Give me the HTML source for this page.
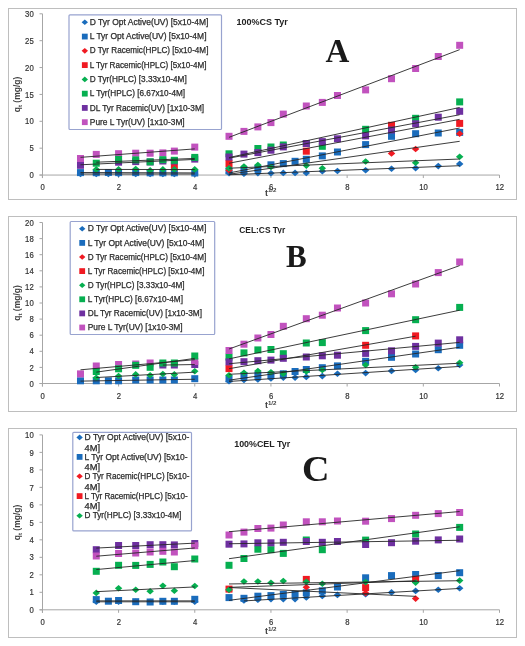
<!DOCTYPE html>
<html><head><meta charset="utf-8"><style>
html,body{margin:0;padding:0;background:#fff;width:525px;height:646px;overflow:hidden}
svg{display:block;will-change:transform}
.tk{font-family:"Liberation Sans",sans-serif;font-size:8.8px;fill:#333;stroke:#333;stroke-width:0.2px}
.lg{font-family:"Liberation Sans",sans-serif;font-size:8.3px;fill:#2b2b2b;stroke:#2b2b2b;stroke-width:0.25px}
.ax{font-family:"Liberation Sans",sans-serif;font-size:9px;fill:#404040;font-weight:bold}
.axb{font-family:"Liberation Sans",sans-serif;font-size:8.5px;fill:#404040;font-weight:bold}
.ttl{font-family:"Liberation Sans",sans-serif;font-size:9.3px;fill:#222;font-weight:bold}
.big{font-family:"Liberation Serif",serif;font-size:31px;fill:#1a1a1a;font-weight:bold}
</style></head><body>
<svg width="525" height="646" viewBox="0 0 525 646">
<rect width="525" height="646" fill="#fff"/>
<rect x="8.5" y="8.5" width="508" height="191" fill="#fff" stroke="#BEBEBE" stroke-width="1"/>
<g stroke="#A6A6A6" stroke-width="1" fill="none">
<path d="M42.5 13.80V178.05"/>
<path d="M39.5 175.05H499.50"/>
<path d="M39.5 175.05H42.5"/>
<path d="M39.5 148.18H42.5"/>
<path d="M39.5 121.30H42.5"/>
<path d="M39.5 94.43H42.5"/>
<path d="M39.5 67.55H42.5"/>
<path d="M39.5 40.68H42.5"/>
<path d="M39.5 13.80H42.5"/>
<path d="M42.40 175.05V178.05"/>
<path d="M118.58 175.05V178.05"/>
<path d="M194.77 175.05V178.05"/>
<path d="M270.95 175.05V178.05"/>
<path d="M347.13 175.05V178.05"/>
<path d="M423.32 175.05V178.05"/>
<path d="M499.50 175.05V178.05"/>
</g>
<text x="29.40" y="178.20" class="tk" textLength="4.30" lengthAdjust="spacingAndGlyphs">0</text>
<text x="29.40" y="151.33" class="tk" textLength="4.30" lengthAdjust="spacingAndGlyphs">5</text>
<text x="25.10" y="124.45" class="tk" textLength="8.60" lengthAdjust="spacingAndGlyphs">10</text>
<text x="25.10" y="97.58" class="tk" textLength="8.60" lengthAdjust="spacingAndGlyphs">15</text>
<text x="25.10" y="70.70" class="tk" textLength="8.60" lengthAdjust="spacingAndGlyphs">20</text>
<text x="25.10" y="43.83" class="tk" textLength="8.60" lengthAdjust="spacingAndGlyphs">25</text>
<text x="25.10" y="16.95" class="tk" textLength="8.60" lengthAdjust="spacingAndGlyphs">30</text>
<text x="40.55" y="190.05" class="tk" textLength="4.30" lengthAdjust="spacingAndGlyphs">0</text>
<text x="116.73" y="190.05" class="tk" textLength="4.30" lengthAdjust="spacingAndGlyphs">2</text>
<text x="192.92" y="190.05" class="tk" textLength="4.30" lengthAdjust="spacingAndGlyphs">4</text>
<text x="269.10" y="190.05" class="tk" textLength="4.30" lengthAdjust="spacingAndGlyphs">6</text>
<text x="345.28" y="190.05" class="tk" textLength="4.30" lengthAdjust="spacingAndGlyphs">8</text>
<text x="419.32" y="190.05" class="tk" textLength="8.60" lengthAdjust="spacingAndGlyphs">10</text>
<text x="495.50" y="190.05" class="tk" textLength="8.60" lengthAdjust="spacingAndGlyphs">12</text>
<text x="264.9" y="195.70" class="ax">t<tspan dy="-3.4" font-size="6.2">1/2</tspan></text>
<text transform="translate(20 94.50) rotate(-90)" text-anchor="middle" class="axb">q<tspan dy="2" font-size="6">t</tspan><tspan dy="-2"> (mg/g)</tspan></text>
<path d="M80.49 170.70L84.24 174.00L80.49 177.30L76.74 174.00Z" fill="#1A6CBC"/>
<path d="M96.27 170.70L100.02 174.00L96.27 177.30L92.52 174.00Z" fill="#1A6CBC"/>
<path d="M108.38 170.70L112.13 174.00L108.38 177.30L104.63 174.00Z" fill="#1A6CBC"/>
<path d="M118.58 170.70L122.33 174.00L118.58 177.30L114.83 174.00Z" fill="#1A6CBC"/>
<path d="M135.71 170.70L139.46 174.00L135.71 177.30L131.96 174.00Z" fill="#1A6CBC"/>
<path d="M150.14 170.70L153.89 174.00L150.14 177.30L146.39 174.00Z" fill="#1A6CBC"/>
<path d="M162.86 170.70L166.61 174.00L162.86 177.30L159.11 174.00Z" fill="#1A6CBC"/>
<path d="M174.35 170.70L178.10 174.00L174.35 177.30L170.60 174.00Z" fill="#1A6CBC"/>
<path d="M194.77 170.70L198.52 174.00L194.77 177.30L191.02 174.00Z" fill="#1A6CBC"/>
<rect x="76.99" y="169.10" width="7.00" height="7.00" fill="#1A6CBC"/>
<rect x="92.77" y="169.20" width="7.00" height="7.00" fill="#1A6CBC"/>
<rect x="104.88" y="169.00" width="7.00" height="7.00" fill="#1A6CBC"/>
<rect x="115.08" y="169.10" width="7.00" height="7.00" fill="#1A6CBC"/>
<rect x="132.21" y="169.10" width="7.00" height="7.00" fill="#1A6CBC"/>
<rect x="146.64" y="169.30" width="7.00" height="7.00" fill="#1A6CBC"/>
<rect x="159.36" y="169.30" width="7.00" height="7.00" fill="#1A6CBC"/>
<rect x="170.85" y="169.30" width="7.00" height="7.00" fill="#1A6CBC"/>
<rect x="191.27" y="169.50" width="7.00" height="7.00" fill="#1A6CBC"/>
<rect x="170.85" y="163.60" width="7.00" height="7.00" fill="#F01A22"/>
<path d="M96.27 166.10L100.02 169.40L96.27 172.70L92.52 169.40Z" fill="#06AF50"/>
<path d="M118.58 166.10L122.33 169.40L118.58 172.70L114.83 169.40Z" fill="#06AF50"/>
<path d="M135.71 165.70L139.46 169.00L135.71 172.30L131.96 169.00Z" fill="#06AF50"/>
<path d="M150.14 167.10L153.89 170.40L150.14 173.70L146.39 170.40Z" fill="#06AF50"/>
<path d="M162.86 166.10L166.61 169.40L162.86 172.70L159.11 169.40Z" fill="#06AF50"/>
<path d="M174.35 166.10L178.10 169.40L174.35 172.70L170.60 169.40Z" fill="#06AF50"/>
<path d="M194.77 166.10L198.52 169.40L194.77 172.70L191.02 169.40Z" fill="#06AF50"/>
<rect x="76.99" y="161.80" width="7.00" height="7.00" fill="#6E30A0"/>
<rect x="115.08" y="158.70" width="7.00" height="7.00" fill="#6E30A0"/>
<rect x="132.21" y="158.10" width="7.00" height="7.00" fill="#6E30A0"/>
<rect x="146.64" y="158.50" width="7.00" height="7.00" fill="#6E30A0"/>
<rect x="159.36" y="157.50" width="7.00" height="7.00" fill="#6E30A0"/>
<rect x="170.85" y="157.50" width="7.00" height="7.00" fill="#6E30A0"/>
<rect x="191.27" y="155.60" width="7.00" height="7.00" fill="#6E30A0"/>
<rect x="76.99" y="155.00" width="7.00" height="7.00" fill="#C152BE"/>
<rect x="92.77" y="150.90" width="7.00" height="7.00" fill="#C152BE"/>
<rect x="115.08" y="150.20" width="7.00" height="7.00" fill="#C152BE"/>
<rect x="132.21" y="149.70" width="7.00" height="7.00" fill="#C152BE"/>
<rect x="146.64" y="149.70" width="7.00" height="7.00" fill="#C152BE"/>
<rect x="159.36" y="149.40" width="7.00" height="7.00" fill="#C152BE"/>
<rect x="170.85" y="147.60" width="7.00" height="7.00" fill="#C152BE"/>
<rect x="191.27" y="143.60" width="7.00" height="7.00" fill="#C152BE"/>
<rect x="92.77" y="159.70" width="7.00" height="7.00" fill="#06AF50"/>
<rect x="115.08" y="155.90" width="7.00" height="7.00" fill="#06AF50"/>
<rect x="132.21" y="156.40" width="7.00" height="7.00" fill="#06AF50"/>
<rect x="146.64" y="158.30" width="7.00" height="7.00" fill="#06AF50"/>
<rect x="159.36" y="156.20" width="7.00" height="7.00" fill="#06AF50"/>
<rect x="170.85" y="156.80" width="7.00" height="7.00" fill="#06AF50"/>
<rect x="191.27" y="153.90" width="7.00" height="7.00" fill="#06AF50"/>
<path d="M229.01 169.80L232.76 173.10L229.01 176.40L225.26 173.10Z" fill="#1A6CBC"/>
<path d="M243.96 170.40L247.71 173.70L243.96 177.00L240.21 173.70Z" fill="#1A6CBC"/>
<path d="M257.88 169.80L261.63 173.10L257.88 176.40L254.13 173.10Z" fill="#1A6CBC"/>
<path d="M270.95 170.00L274.70 173.30L270.95 176.60L267.20 173.30Z" fill="#1A6CBC"/>
<path d="M283.31 169.60L287.06 172.90L283.31 176.20L279.56 172.90Z" fill="#1A6CBC"/>
<path d="M295.07 169.60L298.82 172.90L295.07 176.20L291.32 172.90Z" fill="#1A6CBC"/>
<path d="M306.31 169.60L310.06 172.90L306.31 176.20L302.56 172.90Z" fill="#1A6CBC"/>
<path d="M322.32 168.00L326.07 171.30L322.32 174.60L318.57 171.30Z" fill="#1A6CBC"/>
<path d="M337.46 167.70L341.21 171.00L337.46 174.30L333.71 171.00Z" fill="#1A6CBC"/>
<path d="M365.62 167.00L369.37 170.30L365.62 173.60L361.87 170.30Z" fill="#1A6CBC"/>
<path d="M391.52 165.40L395.27 168.70L391.52 172.00L387.77 168.70Z" fill="#1A6CBC"/>
<path d="M415.62 164.80L419.37 168.10L415.62 171.40L411.87 168.10Z" fill="#1A6CBC"/>
<path d="M438.26 162.80L442.01 166.10L438.26 169.40L434.51 166.10Z" fill="#1A6CBC"/>
<path d="M459.67 160.60L463.42 163.90L459.67 167.20L455.92 163.90Z" fill="#1A6CBC"/>
<rect x="225.51" y="167.40" width="7.00" height="7.00" fill="#1A6CBC"/>
<rect x="240.46" y="166.80" width="7.00" height="7.00" fill="#1A6CBC"/>
<rect x="254.38" y="165.00" width="7.00" height="7.00" fill="#1A6CBC"/>
<rect x="267.45" y="161.30" width="7.00" height="7.00" fill="#1A6CBC"/>
<rect x="279.81" y="160.10" width="7.00" height="7.00" fill="#1A6CBC"/>
<rect x="291.57" y="157.80" width="7.00" height="7.00" fill="#1A6CBC"/>
<rect x="302.81" y="155.80" width="7.00" height="7.00" fill="#1A6CBC"/>
<rect x="318.82" y="152.40" width="7.00" height="7.00" fill="#1A6CBC"/>
<rect x="333.96" y="148.50" width="7.00" height="7.00" fill="#1A6CBC"/>
<rect x="362.12" y="141.10" width="7.00" height="7.00" fill="#1A6CBC"/>
<rect x="388.02" y="132.80" width="7.00" height="7.00" fill="#1A6CBC"/>
<rect x="412.12" y="130.20" width="7.00" height="7.00" fill="#1A6CBC"/>
<rect x="434.76" y="129.50" width="7.00" height="7.00" fill="#1A6CBC"/>
<rect x="456.17" y="128.90" width="7.00" height="7.00" fill="#1A6CBC"/>
<path d="M229.01 167.00L232.76 170.30L229.01 173.60L225.26 170.30Z" fill="#F01A22"/>
<path d="M391.52 150.10L395.27 153.40L391.52 156.70L387.77 153.40Z" fill="#F01A22"/>
<path d="M415.62 145.70L419.37 149.00L415.62 152.30L411.87 149.00Z" fill="#F01A22"/>
<path d="M459.67 130.40L463.42 133.70L459.67 137.00L455.92 133.70Z" fill="#F01A22"/>
<rect x="225.51" y="160.00" width="7.00" height="7.00" fill="#F01A22"/>
<rect x="302.81" y="147.70" width="7.00" height="7.00" fill="#F01A22"/>
<rect x="388.02" y="121.80" width="7.00" height="7.00" fill="#F01A22"/>
<rect x="456.17" y="119.90" width="7.00" height="7.00" fill="#F01A22"/>
<path d="M229.01 164.90L232.76 168.20L229.01 171.50L225.26 168.20Z" fill="#06AF50"/>
<path d="M243.96 163.20L247.71 166.50L243.96 169.80L240.21 166.50Z" fill="#06AF50"/>
<path d="M257.88 161.70L261.63 165.00L257.88 168.30L254.13 165.00Z" fill="#06AF50"/>
<path d="M270.95 163.70L274.70 167.00L270.95 170.30L267.20 167.00Z" fill="#06AF50"/>
<path d="M306.31 162.30L310.06 165.60L306.31 168.90L302.56 165.60Z" fill="#06AF50"/>
<path d="M322.32 164.90L326.07 168.20L322.32 171.50L318.57 168.20Z" fill="#06AF50"/>
<path d="M365.62 158.20L369.37 161.50L365.62 164.80L361.87 161.50Z" fill="#06AF50"/>
<path d="M415.62 159.50L419.37 162.80L415.62 166.10L411.87 162.80Z" fill="#06AF50"/>
<path d="M459.67 153.40L463.42 156.70L459.67 160.00L455.92 156.70Z" fill="#06AF50"/>
<rect x="225.51" y="150.30" width="7.00" height="7.00" fill="#06AF50"/>
<rect x="254.38" y="145.00" width="7.00" height="7.00" fill="#06AF50"/>
<rect x="267.45" y="143.50" width="7.00" height="7.00" fill="#06AF50"/>
<rect x="279.81" y="141.50" width="7.00" height="7.00" fill="#06AF50"/>
<rect x="302.81" y="140.00" width="7.00" height="7.00" fill="#06AF50"/>
<rect x="318.82" y="142.80" width="7.00" height="7.00" fill="#06AF50"/>
<rect x="362.12" y="125.80" width="7.00" height="7.00" fill="#06AF50"/>
<rect x="412.12" y="114.80" width="7.00" height="7.00" fill="#06AF50"/>
<rect x="456.17" y="98.40" width="7.00" height="7.00" fill="#06AF50"/>
<rect x="225.51" y="153.50" width="7.00" height="7.00" fill="#6E30A0"/>
<rect x="240.46" y="150.60" width="7.00" height="7.00" fill="#6E30A0"/>
<rect x="254.38" y="149.10" width="7.00" height="7.00" fill="#6E30A0"/>
<rect x="267.45" y="146.70" width="7.00" height="7.00" fill="#6E30A0"/>
<rect x="279.81" y="143.40" width="7.00" height="7.00" fill="#6E30A0"/>
<rect x="302.81" y="140.00" width="7.00" height="7.00" fill="#6E30A0"/>
<rect x="318.82" y="138.10" width="7.00" height="7.00" fill="#6E30A0"/>
<rect x="333.96" y="135.30" width="7.00" height="7.00" fill="#6E30A0"/>
<rect x="362.12" y="132.40" width="7.00" height="7.00" fill="#6E30A0"/>
<rect x="388.02" y="126.50" width="7.00" height="7.00" fill="#6E30A0"/>
<rect x="412.12" y="120.30" width="7.00" height="7.00" fill="#6E30A0"/>
<rect x="434.76" y="113.70" width="7.00" height="7.00" fill="#6E30A0"/>
<rect x="456.17" y="107.80" width="7.00" height="7.00" fill="#6E30A0"/>
<rect x="225.51" y="132.80" width="7.00" height="7.00" fill="#C152BE"/>
<rect x="240.46" y="127.90" width="7.00" height="7.00" fill="#C152BE"/>
<rect x="254.38" y="123.40" width="7.00" height="7.00" fill="#C152BE"/>
<rect x="267.45" y="119.10" width="7.00" height="7.00" fill="#C152BE"/>
<rect x="279.81" y="110.60" width="7.00" height="7.00" fill="#C152BE"/>
<rect x="302.81" y="102.50" width="7.00" height="7.00" fill="#C152BE"/>
<rect x="318.82" y="98.90" width="7.00" height="7.00" fill="#C152BE"/>
<rect x="333.96" y="92.00" width="7.00" height="7.00" fill="#C152BE"/>
<rect x="362.12" y="86.40" width="7.00" height="7.00" fill="#C152BE"/>
<rect x="388.02" y="75.20" width="7.00" height="7.00" fill="#C152BE"/>
<rect x="412.12" y="65.00" width="7.00" height="7.00" fill="#C152BE"/>
<rect x="434.76" y="53.00" width="7.00" height="7.00" fill="#C152BE"/>
<rect x="456.17" y="41.80" width="7.00" height="7.00" fill="#C152BE"/>
<line x1="80.49" y1="174.00" x2="194.77" y2="174.00" stroke="#262626" stroke-width="0.9"/>
<line x1="229.01" y1="174.77" x2="459.67" y2="165.70" stroke="#262626" stroke-width="0.9"/>
<line x1="80.49" y1="172.53" x2="194.77" y2="172.91" stroke="#262626" stroke-width="0.9"/>
<line x1="229.01" y1="172.96" x2="459.67" y2="128.02" stroke="#262626" stroke-width="0.9"/>
<line x1="228.60" y1="174.30" x2="459.70" y2="141.30" stroke="#262626" stroke-width="0.9"/>
<line x1="229.01" y1="163.21" x2="459.67" y2="119.36" stroke="#262626" stroke-width="0.9"/>
<line x1="96.27" y1="169.43" x2="194.77" y2="169.54" stroke="#262626" stroke-width="0.9"/>
<line x1="229.01" y1="168.19" x2="459.67" y2="159.02" stroke="#262626" stroke-width="0.9"/>
<line x1="96.27" y1="162.20" x2="194.77" y2="158.43" stroke="#262626" stroke-width="0.9"/>
<line x1="229.01" y1="157.56" x2="459.67" y2="107.49" stroke="#262626" stroke-width="0.9"/>
<line x1="80.49" y1="164.79" x2="194.77" y2="159.42" stroke="#262626" stroke-width="0.9"/>
<line x1="229.01" y1="158.14" x2="459.67" y2="114.76" stroke="#262626" stroke-width="0.9"/>
<line x1="80.49" y1="157.35" x2="194.77" y2="148.90" stroke="#262626" stroke-width="0.9"/>
<line x1="229.01" y1="137.32" x2="459.67" y2="49.65" stroke="#262626" stroke-width="0.9"/>
<rect x="69" y="14.8" width="152.5" height="114.7" fill="#fff" stroke="#98A3CF" stroke-width="1.2" rx="1"/>
<path d="M84.80 19.48L88.00 22.30L84.80 25.12L81.60 22.30Z" fill="#1A6CBC"/>
<text x="89.8" y="24.90" class="lg" textLength="118.6" lengthAdjust="spacingAndGlyphs">D Tyr Opt Active(UV) [5x10-4M]</text>
<rect x="81.90" y="33.67" width="5.80" height="5.80" fill="#1A6CBC"/>
<text x="89.8" y="39.17" class="lg" textLength="116.7" lengthAdjust="spacingAndGlyphs">L Tyr Opt Active(UV) [5x10-4M]</text>
<path d="M84.80 48.02L88.00 50.84L84.80 53.66L81.60 50.84Z" fill="#F01A22"/>
<text x="89.8" y="53.44" class="lg" textLength="118.6" lengthAdjust="spacingAndGlyphs">D Tyr Racemic(HPLC) [5x10-4M]</text>
<rect x="81.90" y="62.21" width="5.80" height="5.80" fill="#F01A22"/>
<text x="89.8" y="67.71" class="lg" textLength="116.7" lengthAdjust="spacingAndGlyphs">L Tyr Racemic(HPLC) [5x10-4M]</text>
<path d="M84.80 76.56L88.00 79.38L84.80 82.20L81.60 79.38Z" fill="#06AF50"/>
<text x="89.8" y="81.98" class="lg" textLength="96.9" lengthAdjust="spacingAndGlyphs">D Tyr(HPLC) [3.33x10-4M]</text>
<rect x="81.90" y="90.75" width="5.80" height="5.80" fill="#06AF50"/>
<text x="89.8" y="96.25" class="lg" textLength="95.3" lengthAdjust="spacingAndGlyphs">L Tyr(HPLC) [6.67x10-4M]</text>
<rect x="81.90" y="105.02" width="5.80" height="5.80" fill="#6E30A0"/>
<text x="89.8" y="110.52" class="lg" textLength="114.3" lengthAdjust="spacingAndGlyphs">DL Tyr Racemic(UV) [1x10-3M]</text>
<rect x="81.90" y="119.29" width="5.80" height="5.80" fill="#C152BE"/>
<text x="89.8" y="124.79" class="lg" textLength="94.9" lengthAdjust="spacingAndGlyphs">Pure L Tyr(UV) [1x10-3M]</text>
<text x="236.4" y="25.4" class="ttl" textLength="51.5" lengthAdjust="spacingAndGlyphs">100%CS Tyr</text>
<text x="325.6" y="61.9" class="big" style="font-size:33px">A</text>
<rect x="8.5" y="216.5" width="508" height="195" fill="#fff" stroke="#BEBEBE" stroke-width="1"/>
<g stroke="#A6A6A6" stroke-width="1" fill="none">
<path d="M42.5 222.50V386.50"/>
<path d="M39.5 383.50H499.50"/>
<path d="M39.5 383.50H42.5"/>
<path d="M39.5 367.40H42.5"/>
<path d="M39.5 351.30H42.5"/>
<path d="M39.5 335.20H42.5"/>
<path d="M39.5 319.10H42.5"/>
<path d="M39.5 303.00H42.5"/>
<path d="M39.5 286.90H42.5"/>
<path d="M39.5 270.80H42.5"/>
<path d="M39.5 254.70H42.5"/>
<path d="M39.5 238.60H42.5"/>
<path d="M39.5 222.50H42.5"/>
<path d="M42.40 383.50V386.50"/>
<path d="M118.58 383.50V386.50"/>
<path d="M194.77 383.50V386.50"/>
<path d="M270.95 383.50V386.50"/>
<path d="M347.13 383.50V386.50"/>
<path d="M423.32 383.50V386.50"/>
<path d="M499.50 383.50V386.50"/>
</g>
<text x="29.40" y="386.65" class="tk" textLength="4.30" lengthAdjust="spacingAndGlyphs">0</text>
<text x="29.40" y="370.55" class="tk" textLength="4.30" lengthAdjust="spacingAndGlyphs">2</text>
<text x="29.40" y="354.45" class="tk" textLength="4.30" lengthAdjust="spacingAndGlyphs">4</text>
<text x="29.40" y="338.35" class="tk" textLength="4.30" lengthAdjust="spacingAndGlyphs">6</text>
<text x="29.40" y="322.25" class="tk" textLength="4.30" lengthAdjust="spacingAndGlyphs">8</text>
<text x="25.10" y="306.15" class="tk" textLength="8.60" lengthAdjust="spacingAndGlyphs">10</text>
<text x="25.10" y="290.05" class="tk" textLength="8.60" lengthAdjust="spacingAndGlyphs">12</text>
<text x="25.10" y="273.95" class="tk" textLength="8.60" lengthAdjust="spacingAndGlyphs">14</text>
<text x="25.10" y="257.85" class="tk" textLength="8.60" lengthAdjust="spacingAndGlyphs">16</text>
<text x="25.10" y="241.75" class="tk" textLength="8.60" lengthAdjust="spacingAndGlyphs">18</text>
<text x="25.10" y="225.65" class="tk" textLength="8.60" lengthAdjust="spacingAndGlyphs">20</text>
<text x="40.55" y="398.50" class="tk" textLength="4.30" lengthAdjust="spacingAndGlyphs">0</text>
<text x="116.73" y="398.50" class="tk" textLength="4.30" lengthAdjust="spacingAndGlyphs">2</text>
<text x="192.92" y="398.50" class="tk" textLength="4.30" lengthAdjust="spacingAndGlyphs">4</text>
<text x="269.10" y="398.50" class="tk" textLength="4.30" lengthAdjust="spacingAndGlyphs">6</text>
<text x="345.28" y="398.50" class="tk" textLength="4.30" lengthAdjust="spacingAndGlyphs">8</text>
<text x="419.32" y="398.50" class="tk" textLength="8.60" lengthAdjust="spacingAndGlyphs">10</text>
<text x="495.50" y="398.50" class="tk" textLength="8.60" lengthAdjust="spacingAndGlyphs">12</text>
<text x="264.9" y="407.60" class="ax">t<tspan dy="-2.7" font-size="6.2">1/2</tspan></text>
<text transform="translate(20 303.00) rotate(-90)" text-anchor="middle" class="axb">q<tspan dy="2" font-size="6">t</tspan><tspan dy="-2"> (mg/g)</tspan></text>
<rect x="76.99" y="377.30" width="7.00" height="7.00" fill="#1A6CBC"/>
<rect x="92.77" y="377.30" width="7.00" height="7.00" fill="#1A6CBC"/>
<rect x="104.88" y="377.30" width="7.00" height="7.00" fill="#1A6CBC"/>
<rect x="115.08" y="377.30" width="7.00" height="7.00" fill="#1A6CBC"/>
<rect x="132.21" y="376.50" width="7.00" height="7.00" fill="#1A6CBC"/>
<rect x="146.64" y="376.50" width="7.00" height="7.00" fill="#1A6CBC"/>
<rect x="159.36" y="376.50" width="7.00" height="7.00" fill="#1A6CBC"/>
<rect x="170.85" y="376.50" width="7.00" height="7.00" fill="#1A6CBC"/>
<rect x="191.27" y="375.20" width="7.00" height="7.00" fill="#1A6CBC"/>
<path d="M96.27 374.50L100.02 377.80L96.27 381.10L92.52 377.80Z" fill="#06AF50"/>
<path d="M118.58 372.70L122.33 376.00L118.58 379.30L114.83 376.00Z" fill="#06AF50"/>
<path d="M135.71 371.10L139.46 374.40L135.71 377.70L131.96 374.40Z" fill="#06AF50"/>
<path d="M150.14 372.00L153.89 375.30L150.14 378.60L146.39 375.30Z" fill="#06AF50"/>
<path d="M162.86 370.70L166.61 374.00L162.86 377.30L159.11 374.00Z" fill="#06AF50"/>
<path d="M174.35 371.10L178.10 374.40L174.35 377.70L170.60 374.40Z" fill="#06AF50"/>
<path d="M194.77 368.00L198.52 371.30L194.77 374.60L191.02 371.30Z" fill="#06AF50"/>
<rect x="159.36" y="361.50" width="7.00" height="7.00" fill="#6E30A0"/>
<rect x="170.85" y="361.50" width="7.00" height="7.00" fill="#6E30A0"/>
<rect x="191.27" y="361.00" width="7.00" height="7.00" fill="#6E30A0"/>
<rect x="76.99" y="370.40" width="7.00" height="7.00" fill="#C152BE"/>
<rect x="92.77" y="362.50" width="7.00" height="7.00" fill="#C152BE"/>
<rect x="115.08" y="361.00" width="7.00" height="7.00" fill="#C152BE"/>
<rect x="132.21" y="360.50" width="7.00" height="7.00" fill="#C152BE"/>
<rect x="146.64" y="359.50" width="7.00" height="7.00" fill="#C152BE"/>
<rect x="191.27" y="358.00" width="7.00" height="7.00" fill="#C152BE"/>
<rect x="92.77" y="368.00" width="7.00" height="7.00" fill="#06AF50"/>
<rect x="115.08" y="365.30" width="7.00" height="7.00" fill="#06AF50"/>
<rect x="132.21" y="361.80" width="7.00" height="7.00" fill="#06AF50"/>
<rect x="146.64" y="363.80" width="7.00" height="7.00" fill="#06AF50"/>
<rect x="159.36" y="359.50" width="7.00" height="7.00" fill="#06AF50"/>
<rect x="170.85" y="359.50" width="7.00" height="7.00" fill="#06AF50"/>
<rect x="191.27" y="352.50" width="7.00" height="7.00" fill="#06AF50"/>
<path d="M229.01 378.00L232.76 381.30L229.01 384.60L225.26 381.30Z" fill="#1A6CBC"/>
<path d="M243.96 376.70L247.71 380.00L243.96 383.30L240.21 380.00Z" fill="#1A6CBC"/>
<path d="M257.88 376.10L261.63 379.40L257.88 382.70L254.13 379.40Z" fill="#1A6CBC"/>
<path d="M270.95 375.20L274.70 378.50L270.95 381.80L267.20 378.50Z" fill="#1A6CBC"/>
<path d="M283.31 374.30L287.06 377.60L283.31 380.90L279.56 377.60Z" fill="#1A6CBC"/>
<path d="M295.07 374.30L298.82 377.60L295.07 380.90L291.32 377.60Z" fill="#1A6CBC"/>
<path d="M306.31 373.60L310.06 376.90L306.31 380.20L302.56 376.90Z" fill="#1A6CBC"/>
<path d="M322.32 372.80L326.07 376.10L322.32 379.40L318.57 376.10Z" fill="#1A6CBC"/>
<path d="M337.46 370.50L341.21 373.80L337.46 377.10L333.71 373.80Z" fill="#1A6CBC"/>
<path d="M365.62 369.80L369.37 373.10L365.62 376.40L361.87 373.10Z" fill="#1A6CBC"/>
<path d="M391.52 367.60L395.27 370.90L391.52 374.20L387.77 370.90Z" fill="#1A6CBC"/>
<path d="M415.62 366.70L419.37 370.00L415.62 373.30L411.87 370.00Z" fill="#1A6CBC"/>
<path d="M438.26 365.00L442.01 368.30L438.26 371.60L434.51 368.30Z" fill="#1A6CBC"/>
<path d="M459.67 361.70L463.42 365.00L459.67 368.30L455.92 365.00Z" fill="#1A6CBC"/>
<rect x="225.51" y="375.30" width="7.00" height="7.00" fill="#1A6CBC"/>
<rect x="240.46" y="372.30" width="7.00" height="7.00" fill="#1A6CBC"/>
<rect x="254.38" y="371.70" width="7.00" height="7.00" fill="#1A6CBC"/>
<rect x="267.45" y="371.70" width="7.00" height="7.00" fill="#1A6CBC"/>
<rect x="279.81" y="370.30" width="7.00" height="7.00" fill="#1A6CBC"/>
<rect x="291.57" y="368.00" width="7.00" height="7.00" fill="#1A6CBC"/>
<rect x="302.81" y="366.00" width="7.00" height="7.00" fill="#1A6CBC"/>
<rect x="318.82" y="364.20" width="7.00" height="7.00" fill="#1A6CBC"/>
<rect x="333.96" y="362.40" width="7.00" height="7.00" fill="#1A6CBC"/>
<rect x="362.12" y="357.80" width="7.00" height="7.00" fill="#1A6CBC"/>
<rect x="388.02" y="353.80" width="7.00" height="7.00" fill="#1A6CBC"/>
<rect x="412.12" y="350.50" width="7.00" height="7.00" fill="#1A6CBC"/>
<rect x="434.76" y="346.20" width="7.00" height="7.00" fill="#1A6CBC"/>
<rect x="456.17" y="341.80" width="7.00" height="7.00" fill="#1A6CBC"/>
<rect x="225.51" y="365.10" width="7.00" height="7.00" fill="#F01A22"/>
<rect x="362.12" y="341.80" width="7.00" height="7.00" fill="#F01A22"/>
<rect x="412.12" y="332.40" width="7.00" height="7.00" fill="#F01A22"/>
<path d="M229.01 371.90L232.76 375.20L229.01 378.50L225.26 375.20Z" fill="#06AF50"/>
<path d="M243.96 369.50L247.71 372.80L243.96 376.10L240.21 372.80Z" fill="#06AF50"/>
<path d="M257.88 367.70L261.63 371.00L257.88 374.30L254.13 371.00Z" fill="#06AF50"/>
<path d="M270.95 368.90L274.70 372.20L270.95 375.50L267.20 372.20Z" fill="#06AF50"/>
<path d="M283.31 370.50L287.06 373.80L283.31 377.10L279.56 373.80Z" fill="#06AF50"/>
<path d="M306.31 368.20L310.06 371.50L306.31 374.80L302.56 371.50Z" fill="#06AF50"/>
<path d="M322.32 366.70L326.07 370.00L322.32 373.30L318.57 370.00Z" fill="#06AF50"/>
<path d="M365.62 361.70L369.37 365.00L365.62 368.30L361.87 365.00Z" fill="#06AF50"/>
<path d="M415.62 363.90L419.37 367.20L415.62 370.50L411.87 367.20Z" fill="#06AF50"/>
<path d="M459.67 359.50L463.42 362.80L459.67 366.10L455.92 362.80Z" fill="#06AF50"/>
<rect x="225.51" y="353.60" width="7.00" height="7.00" fill="#06AF50"/>
<rect x="240.46" y="349.40" width="7.00" height="7.00" fill="#06AF50"/>
<rect x="254.38" y="346.40" width="7.00" height="7.00" fill="#06AF50"/>
<rect x="267.45" y="346.00" width="7.00" height="7.00" fill="#06AF50"/>
<rect x="279.81" y="350.20" width="7.00" height="7.00" fill="#06AF50"/>
<rect x="302.81" y="339.50" width="7.00" height="7.00" fill="#06AF50"/>
<rect x="318.82" y="339.10" width="7.00" height="7.00" fill="#06AF50"/>
<rect x="362.12" y="327.10" width="7.00" height="7.00" fill="#06AF50"/>
<rect x="412.12" y="316.20" width="7.00" height="7.00" fill="#06AF50"/>
<rect x="456.17" y="303.90" width="7.00" height="7.00" fill="#06AF50"/>
<rect x="225.51" y="358.40" width="7.00" height="7.00" fill="#6E30A0"/>
<rect x="240.46" y="358.20" width="7.00" height="7.00" fill="#6E30A0"/>
<rect x="254.38" y="357.20" width="7.00" height="7.00" fill="#6E30A0"/>
<rect x="267.45" y="356.60" width="7.00" height="7.00" fill="#6E30A0"/>
<rect x="279.81" y="354.80" width="7.00" height="7.00" fill="#6E30A0"/>
<rect x="302.81" y="353.50" width="7.00" height="7.00" fill="#6E30A0"/>
<rect x="318.82" y="352.30" width="7.00" height="7.00" fill="#6E30A0"/>
<rect x="333.96" y="351.70" width="7.00" height="7.00" fill="#6E30A0"/>
<rect x="362.12" y="349.90" width="7.00" height="7.00" fill="#6E30A0"/>
<rect x="388.02" y="347.30" width="7.00" height="7.00" fill="#6E30A0"/>
<rect x="412.12" y="342.90" width="7.00" height="7.00" fill="#6E30A0"/>
<rect x="434.76" y="339.60" width="7.00" height="7.00" fill="#6E30A0"/>
<rect x="456.17" y="336.30" width="7.00" height="7.00" fill="#6E30A0"/>
<rect x="225.51" y="347.00" width="7.00" height="7.00" fill="#C152BE"/>
<rect x="240.46" y="340.70" width="7.00" height="7.00" fill="#C152BE"/>
<rect x="254.38" y="334.50" width="7.00" height="7.00" fill="#C152BE"/>
<rect x="267.45" y="331.00" width="7.00" height="7.00" fill="#C152BE"/>
<rect x="279.81" y="322.80" width="7.00" height="7.00" fill="#C152BE"/>
<rect x="302.81" y="315.20" width="7.00" height="7.00" fill="#C152BE"/>
<rect x="318.82" y="311.70" width="7.00" height="7.00" fill="#C152BE"/>
<rect x="333.96" y="304.50" width="7.00" height="7.00" fill="#C152BE"/>
<rect x="362.12" y="299.50" width="7.00" height="7.00" fill="#C152BE"/>
<rect x="388.02" y="290.30" width="7.00" height="7.00" fill="#C152BE"/>
<rect x="412.12" y="280.50" width="7.00" height="7.00" fill="#C152BE"/>
<rect x="434.76" y="269.10" width="7.00" height="7.00" fill="#C152BE"/>
<rect x="456.17" y="258.50" width="7.00" height="7.00" fill="#C152BE"/>
<line x1="229.01" y1="381.45" x2="459.67" y2="366.45" stroke="#262626" stroke-width="0.9"/>
<line x1="80.49" y1="381.11" x2="194.77" y2="379.25" stroke="#262626" stroke-width="0.9"/>
<line x1="229.01" y1="380.17" x2="459.67" y2="347.24" stroke="#262626" stroke-width="0.9"/>
<line x1="229.01" y1="368.71" x2="415.62" y2="336.19" stroke="#262626" stroke-width="0.9"/>
<line x1="96.27" y1="377.54" x2="194.77" y2="372.17" stroke="#262626" stroke-width="0.9"/>
<line x1="229.01" y1="374.29" x2="459.67" y2="363.24" stroke="#262626" stroke-width="0.9"/>
<line x1="96.27" y1="372.15" x2="194.77" y2="358.38" stroke="#262626" stroke-width="0.9"/>
<line x1="229.01" y1="358.87" x2="459.67" y2="310.23" stroke="#262626" stroke-width="0.9"/>
<line x1="162.86" y1="365.07" x2="194.77" y2="364.54" stroke="#262626" stroke-width="0.9"/>
<line x1="229.01" y1="363.74" x2="459.67" y2="342.40" stroke="#262626" stroke-width="0.9"/>
<line x1="80.49" y1="369.81" x2="194.77" y2="359.69" stroke="#262626" stroke-width="0.9"/>
<line x1="229.01" y1="349.02" x2="459.67" y2="265.58" stroke="#262626" stroke-width="0.9"/>
<rect x="70.2" y="221.5" width="144.5" height="113" fill="#fff" stroke="#98A3CF" stroke-width="1.2" rx="1"/>
<path d="M82.20 225.98L85.40 228.80L82.20 231.62L79.00 228.80Z" fill="#1A6CBC"/>
<text x="87.7" y="231.40" class="lg" textLength="118.6" lengthAdjust="spacingAndGlyphs">D Tyr Opt Active(UV) [5x10-4M]</text>
<rect x="79.30" y="240.00" width="5.80" height="5.80" fill="#1A6CBC"/>
<text x="87.7" y="245.50" class="lg" textLength="116.7" lengthAdjust="spacingAndGlyphs">L Tyr Opt Active(UV) [5x10-4M]</text>
<path d="M82.20 254.18L85.40 257.00L82.20 259.82L79.00 257.00Z" fill="#F01A22"/>
<text x="87.7" y="259.60" class="lg" textLength="118.6" lengthAdjust="spacingAndGlyphs">D Tyr Racemic(HPLC) [5x10-4M]</text>
<rect x="79.30" y="268.20" width="5.80" height="5.80" fill="#F01A22"/>
<text x="87.7" y="273.70" class="lg" textLength="116.7" lengthAdjust="spacingAndGlyphs">L Tyr Racemic(HPLC) [5x10-4M]</text>
<path d="M82.20 282.38L85.40 285.20L82.20 288.02L79.00 285.20Z" fill="#06AF50"/>
<text x="87.7" y="287.80" class="lg" textLength="96.9" lengthAdjust="spacingAndGlyphs">D Tyr(HPLC) [3.33x10-4M]</text>
<rect x="79.30" y="296.40" width="5.80" height="5.80" fill="#06AF50"/>
<text x="87.7" y="301.90" class="lg" textLength="95.3" lengthAdjust="spacingAndGlyphs">L Tyr(HPLC) [6.67x10-4M]</text>
<rect x="79.30" y="310.50" width="5.80" height="5.80" fill="#6E30A0"/>
<text x="87.7" y="316.00" class="lg" textLength="114.3" lengthAdjust="spacingAndGlyphs">DL Tyr Racemic(UV) [1x10-3M]</text>
<rect x="79.30" y="324.60" width="5.80" height="5.80" fill="#C152BE"/>
<text x="87.7" y="330.10" class="lg" textLength="94.9" lengthAdjust="spacingAndGlyphs">Pure L Tyr(UV) [1x10-3M]</text>
<clipPath id="cb"><rect x="230" y="220" width="70" height="13.6"/></clipPath>
<text x="239.3" y="233.4" class="ttl" clip-path="url(#cb)" textLength="46" lengthAdjust="spacingAndGlyphs">CEL:CS Tyr</text>
<text x="286" y="266.5" class="big">B</text>
<rect x="8.5" y="428.5" width="508" height="209" fill="#fff" stroke="#BEBEBE" stroke-width="1"/>
<g stroke="#A6A6A6" stroke-width="1" fill="none">
<path d="M42.5 434.90V612.80"/>
<path d="M39.5 609.80H499.50"/>
<path d="M39.5 609.80H42.5"/>
<path d="M39.5 592.31H42.5"/>
<path d="M39.5 574.82H42.5"/>
<path d="M39.5 557.33H42.5"/>
<path d="M39.5 539.84H42.5"/>
<path d="M39.5 522.35H42.5"/>
<path d="M39.5 504.86H42.5"/>
<path d="M39.5 487.37H42.5"/>
<path d="M39.5 469.88H42.5"/>
<path d="M39.5 452.39H42.5"/>
<path d="M39.5 434.90H42.5"/>
<path d="M42.40 609.80V612.80"/>
<path d="M118.58 609.80V612.80"/>
<path d="M194.77 609.80V612.80"/>
<path d="M270.95 609.80V612.80"/>
<path d="M347.13 609.80V612.80"/>
<path d="M423.32 609.80V612.80"/>
<path d="M499.50 609.80V612.80"/>
</g>
<text x="29.40" y="612.95" class="tk" textLength="4.30" lengthAdjust="spacingAndGlyphs">0</text>
<text x="29.40" y="595.46" class="tk" textLength="4.30" lengthAdjust="spacingAndGlyphs">1</text>
<text x="29.40" y="577.97" class="tk" textLength="4.30" lengthAdjust="spacingAndGlyphs">2</text>
<text x="29.40" y="560.48" class="tk" textLength="4.30" lengthAdjust="spacingAndGlyphs">3</text>
<text x="29.40" y="542.99" class="tk" textLength="4.30" lengthAdjust="spacingAndGlyphs">4</text>
<text x="29.40" y="525.50" class="tk" textLength="4.30" lengthAdjust="spacingAndGlyphs">5</text>
<text x="29.40" y="508.01" class="tk" textLength="4.30" lengthAdjust="spacingAndGlyphs">6</text>
<text x="29.40" y="490.52" class="tk" textLength="4.30" lengthAdjust="spacingAndGlyphs">7</text>
<text x="29.40" y="473.03" class="tk" textLength="4.30" lengthAdjust="spacingAndGlyphs">8</text>
<text x="29.40" y="455.54" class="tk" textLength="4.30" lengthAdjust="spacingAndGlyphs">9</text>
<text x="25.10" y="438.05" class="tk" textLength="8.60" lengthAdjust="spacingAndGlyphs">10</text>
<text x="40.55" y="624.80" class="tk" textLength="4.30" lengthAdjust="spacingAndGlyphs">0</text>
<text x="116.73" y="624.80" class="tk" textLength="4.30" lengthAdjust="spacingAndGlyphs">2</text>
<text x="192.92" y="624.80" class="tk" textLength="4.30" lengthAdjust="spacingAndGlyphs">4</text>
<text x="269.10" y="624.80" class="tk" textLength="4.30" lengthAdjust="spacingAndGlyphs">6</text>
<text x="345.28" y="624.80" class="tk" textLength="4.30" lengthAdjust="spacingAndGlyphs">8</text>
<text x="419.32" y="624.80" class="tk" textLength="8.60" lengthAdjust="spacingAndGlyphs">10</text>
<text x="495.50" y="624.80" class="tk" textLength="8.60" lengthAdjust="spacingAndGlyphs">12</text>
<text x="264.9" y="633.50" class="ax">t<tspan dy="-2.5" font-size="6.2">1/2</tspan></text>
<text transform="translate(20 522.50) rotate(-90)" text-anchor="middle" class="axb">q<tspan dy="2" font-size="6">t</tspan><tspan dy="-2"> (mg/g)</tspan></text>
<path d="M96.27 598.50L100.02 601.80L96.27 605.10L92.52 601.80Z" fill="#1A6CBC"/>
<path d="M118.58 598.50L122.33 601.80L118.58 605.10L114.83 601.80Z" fill="#1A6CBC"/>
<path d="M135.71 598.50L139.46 601.80L135.71 605.10L131.96 601.80Z" fill="#1A6CBC"/>
<path d="M150.14 598.50L153.89 601.80L150.14 605.10L146.39 601.80Z" fill="#1A6CBC"/>
<path d="M162.86 598.50L166.61 601.80L162.86 605.10L159.11 601.80Z" fill="#1A6CBC"/>
<path d="M174.35 598.50L178.10 601.80L174.35 605.10L170.60 601.80Z" fill="#1A6CBC"/>
<path d="M194.77 598.50L198.52 601.80L194.77 605.10L191.02 601.80Z" fill="#1A6CBC"/>
<rect x="92.77" y="596.10" width="7.00" height="7.00" fill="#1A6CBC"/>
<rect x="104.88" y="597.70" width="7.00" height="7.00" fill="#1A6CBC"/>
<rect x="115.08" y="597.00" width="7.00" height="7.00" fill="#1A6CBC"/>
<rect x="132.21" y="598.20" width="7.00" height="7.00" fill="#1A6CBC"/>
<rect x="146.64" y="598.50" width="7.00" height="7.00" fill="#1A6CBC"/>
<rect x="159.36" y="597.80" width="7.00" height="7.00" fill="#1A6CBC"/>
<rect x="170.85" y="597.80" width="7.00" height="7.00" fill="#1A6CBC"/>
<rect x="191.27" y="595.80" width="7.00" height="7.00" fill="#1A6CBC"/>
<path d="M96.27 589.60L100.02 592.90L96.27 596.20L92.52 592.90Z" fill="#06AF50"/>
<path d="M118.58 584.90L122.33 588.20L118.58 591.50L114.83 588.20Z" fill="#06AF50"/>
<path d="M135.71 586.40L139.46 589.70L135.71 593.00L131.96 589.70Z" fill="#06AF50"/>
<path d="M150.14 588.00L153.89 591.30L150.14 594.60L146.39 591.30Z" fill="#06AF50"/>
<path d="M162.86 582.40L166.61 585.70L162.86 589.00L159.11 585.70Z" fill="#06AF50"/>
<path d="M174.35 587.40L178.10 590.70L174.35 594.00L170.60 590.70Z" fill="#06AF50"/>
<path d="M194.77 582.70L198.52 586.00L194.77 589.30L191.02 586.00Z" fill="#06AF50"/>
<rect x="92.77" y="546.20" width="7.00" height="7.00" fill="#6E30A0"/>
<rect x="115.08" y="542.00" width="7.00" height="7.00" fill="#6E30A0"/>
<rect x="132.21" y="542.00" width="7.00" height="7.00" fill="#6E30A0"/>
<rect x="146.64" y="541.20" width="7.00" height="7.00" fill="#6E30A0"/>
<rect x="159.36" y="541.20" width="7.00" height="7.00" fill="#6E30A0"/>
<rect x="170.85" y="541.40" width="7.00" height="7.00" fill="#6E30A0"/>
<rect x="191.27" y="540.00" width="7.00" height="7.00" fill="#6E30A0"/>
<rect x="92.77" y="552.50" width="7.00" height="7.00" fill="#C152BE"/>
<rect x="115.08" y="550.00" width="7.00" height="7.00" fill="#C152BE"/>
<rect x="132.21" y="549.50" width="7.00" height="7.00" fill="#C152BE"/>
<rect x="146.64" y="548.50" width="7.00" height="7.00" fill="#C152BE"/>
<rect x="159.36" y="547.80" width="7.00" height="7.00" fill="#C152BE"/>
<rect x="170.85" y="548.50" width="7.00" height="7.00" fill="#C152BE"/>
<rect x="191.27" y="542.20" width="7.00" height="7.00" fill="#C152BE"/>
<rect x="92.77" y="567.80" width="7.00" height="7.00" fill="#06AF50"/>
<rect x="115.08" y="561.80" width="7.00" height="7.00" fill="#06AF50"/>
<rect x="132.21" y="561.90" width="7.00" height="7.00" fill="#06AF50"/>
<rect x="146.64" y="560.90" width="7.00" height="7.00" fill="#06AF50"/>
<rect x="159.36" y="558.50" width="7.00" height="7.00" fill="#06AF50"/>
<rect x="170.85" y="563.20" width="7.00" height="7.00" fill="#06AF50"/>
<rect x="191.27" y="555.50" width="7.00" height="7.00" fill="#06AF50"/>
<path d="M243.96 597.20L247.71 600.50L243.96 603.80L240.21 600.50Z" fill="#1A6CBC"/>
<path d="M257.88 596.50L261.63 599.80L257.88 603.10L254.13 599.80Z" fill="#1A6CBC"/>
<path d="M270.95 595.80L274.70 599.10L270.95 602.40L267.20 599.10Z" fill="#1A6CBC"/>
<path d="M283.31 595.80L287.06 599.10L283.31 602.40L279.56 599.10Z" fill="#1A6CBC"/>
<path d="M295.07 595.80L298.82 599.10L295.07 602.40L291.32 599.10Z" fill="#1A6CBC"/>
<path d="M306.31 594.20L310.06 597.50L306.31 600.80L302.56 597.50Z" fill="#1A6CBC"/>
<path d="M322.32 592.70L326.07 596.00L322.32 599.30L318.57 596.00Z" fill="#1A6CBC"/>
<path d="M337.46 591.60L341.21 594.90L337.46 598.20L333.71 594.90Z" fill="#1A6CBC"/>
<path d="M365.62 590.90L369.37 594.20L365.62 597.50L361.87 594.20Z" fill="#1A6CBC"/>
<path d="M391.52 589.10L395.27 592.40L391.52 595.70L387.77 592.40Z" fill="#1A6CBC"/>
<path d="M415.62 587.60L419.37 590.90L415.62 594.20L411.87 590.90Z" fill="#1A6CBC"/>
<path d="M438.26 586.50L442.01 589.80L438.26 593.10L434.51 589.80Z" fill="#1A6CBC"/>
<path d="M459.67 585.00L463.42 588.30L459.67 591.60L455.92 588.30Z" fill="#1A6CBC"/>
<rect x="225.51" y="594.10" width="7.00" height="7.00" fill="#1A6CBC"/>
<rect x="240.46" y="594.80" width="7.00" height="7.00" fill="#1A6CBC"/>
<rect x="254.38" y="592.70" width="7.00" height="7.00" fill="#1A6CBC"/>
<rect x="267.45" y="592.10" width="7.00" height="7.00" fill="#1A6CBC"/>
<rect x="279.81" y="590.90" width="7.00" height="7.00" fill="#1A6CBC"/>
<rect x="291.57" y="590.90" width="7.00" height="7.00" fill="#1A6CBC"/>
<rect x="302.81" y="589.30" width="7.00" height="7.00" fill="#1A6CBC"/>
<rect x="318.82" y="587.30" width="7.00" height="7.00" fill="#1A6CBC"/>
<rect x="333.96" y="583.50" width="7.00" height="7.00" fill="#1A6CBC"/>
<rect x="362.12" y="574.30" width="7.00" height="7.00" fill="#1A6CBC"/>
<rect x="388.02" y="572.10" width="7.00" height="7.00" fill="#1A6CBC"/>
<rect x="412.12" y="571.00" width="7.00" height="7.00" fill="#1A6CBC"/>
<rect x="434.76" y="572.10" width="7.00" height="7.00" fill="#1A6CBC"/>
<rect x="456.17" y="569.20" width="7.00" height="7.00" fill="#1A6CBC"/>
<path d="M229.01 586.70L232.76 590.00L229.01 593.30L225.26 590.00Z" fill="#F01A22"/>
<path d="M306.31 584.00L310.06 587.30L306.31 590.60L302.56 587.30Z" fill="#F01A22"/>
<path d="M365.62 589.80L369.37 593.10L365.62 596.40L361.87 593.10Z" fill="#F01A22"/>
<path d="M415.62 595.30L419.37 598.60L415.62 601.90L411.87 598.60Z" fill="#F01A22"/>
<rect x="225.51" y="585.60" width="7.00" height="7.00" fill="#F01A22"/>
<rect x="302.81" y="575.90" width="7.00" height="7.00" fill="#F01A22"/>
<rect x="362.12" y="584.10" width="7.00" height="7.00" fill="#F01A22"/>
<rect x="412.12" y="575.80" width="7.00" height="7.00" fill="#F01A22"/>
<path d="M229.01 586.50L232.76 589.80L229.01 593.10L225.26 589.80Z" fill="#06AF50"/>
<path d="M243.96 578.20L247.71 581.50L243.96 584.80L240.21 581.50Z" fill="#06AF50"/>
<path d="M257.88 578.20L261.63 581.50L257.88 584.80L254.13 581.50Z" fill="#06AF50"/>
<path d="M270.95 579.50L274.70 582.80L270.95 586.10L267.20 582.80Z" fill="#06AF50"/>
<path d="M283.31 577.70L287.06 581.00L283.31 584.30L279.56 581.00Z" fill="#06AF50"/>
<path d="M306.31 578.50L310.06 581.80L306.31 585.10L302.56 581.80Z" fill="#06AF50"/>
<path d="M322.32 580.50L326.07 583.80L322.32 587.10L318.57 583.80Z" fill="#06AF50"/>
<path d="M365.62 578.80L369.37 582.10L365.62 585.40L361.87 582.10Z" fill="#06AF50"/>
<path d="M415.62 579.30L419.37 582.60L415.62 585.90L411.87 582.60Z" fill="#06AF50"/>
<path d="M459.67 577.30L463.42 580.60L459.67 583.90L455.92 580.60Z" fill="#06AF50"/>
<rect x="225.51" y="561.80" width="7.00" height="7.00" fill="#06AF50"/>
<rect x="240.46" y="555.00" width="7.00" height="7.00" fill="#06AF50"/>
<rect x="254.38" y="545.70" width="7.00" height="7.00" fill="#06AF50"/>
<rect x="267.45" y="546.20" width="7.00" height="7.00" fill="#06AF50"/>
<rect x="279.81" y="549.90" width="7.00" height="7.00" fill="#06AF50"/>
<rect x="302.81" y="536.50" width="7.00" height="7.00" fill="#06AF50"/>
<rect x="318.82" y="546.20" width="7.00" height="7.00" fill="#06AF50"/>
<rect x="362.12" y="536.60" width="7.00" height="7.00" fill="#06AF50"/>
<rect x="412.12" y="530.50" width="7.00" height="7.00" fill="#06AF50"/>
<rect x="456.17" y="523.90" width="7.00" height="7.00" fill="#06AF50"/>
<rect x="225.51" y="540.70" width="7.00" height="7.00" fill="#6E30A0"/>
<rect x="240.46" y="540.40" width="7.00" height="7.00" fill="#6E30A0"/>
<rect x="254.38" y="539.30" width="7.00" height="7.00" fill="#6E30A0"/>
<rect x="267.45" y="539.30" width="7.00" height="7.00" fill="#6E30A0"/>
<rect x="279.81" y="538.80" width="7.00" height="7.00" fill="#6E30A0"/>
<rect x="302.81" y="538.00" width="7.00" height="7.00" fill="#6E30A0"/>
<rect x="318.82" y="538.80" width="7.00" height="7.00" fill="#6E30A0"/>
<rect x="333.96" y="538.00" width="7.00" height="7.00" fill="#6E30A0"/>
<rect x="362.12" y="541.00" width="7.00" height="7.00" fill="#6E30A0"/>
<rect x="388.02" y="539.20" width="7.00" height="7.00" fill="#6E30A0"/>
<rect x="412.12" y="537.70" width="7.00" height="7.00" fill="#6E30A0"/>
<rect x="434.76" y="536.40" width="7.00" height="7.00" fill="#6E30A0"/>
<rect x="456.17" y="535.50" width="7.00" height="7.00" fill="#6E30A0"/>
<rect x="225.51" y="531.50" width="7.00" height="7.00" fill="#C152BE"/>
<rect x="240.46" y="528.60" width="7.00" height="7.00" fill="#C152BE"/>
<rect x="254.38" y="525.00" width="7.00" height="7.00" fill="#C152BE"/>
<rect x="267.45" y="524.60" width="7.00" height="7.00" fill="#C152BE"/>
<rect x="279.81" y="521.50" width="7.00" height="7.00" fill="#C152BE"/>
<rect x="302.81" y="518.30" width="7.00" height="7.00" fill="#C152BE"/>
<rect x="318.82" y="518.30" width="7.00" height="7.00" fill="#C152BE"/>
<rect x="333.96" y="517.50" width="7.00" height="7.00" fill="#C152BE"/>
<rect x="362.12" y="517.70" width="7.00" height="7.00" fill="#C152BE"/>
<rect x="388.02" y="515.10" width="7.00" height="7.00" fill="#C152BE"/>
<rect x="412.12" y="511.80" width="7.00" height="7.00" fill="#C152BE"/>
<rect x="434.76" y="510.10" width="7.00" height="7.00" fill="#C152BE"/>
<rect x="456.17" y="509.00" width="7.00" height="7.00" fill="#C152BE"/>
<line x1="96.27" y1="601.80" x2="194.77" y2="601.80" stroke="#262626" stroke-width="0.9"/>
<line x1="243.96" y1="600.91" x2="459.67" y2="588.45" stroke="#262626" stroke-width="0.9"/>
<line x1="96.27" y1="600.86" x2="194.77" y2="600.86" stroke="#262626" stroke-width="0.9"/>
<line x1="229.01" y1="600.34" x2="459.67" y2="570.67" stroke="#262626" stroke-width="0.9"/>
<line x1="229.01" y1="587.50" x2="415.62" y2="596.35" stroke="#262626" stroke-width="0.9"/>
<line x1="229.01" y1="587.37" x2="415.62" y2="580.81" stroke="#262626" stroke-width="0.9"/>
<line x1="96.27" y1="591.67" x2="194.77" y2="586.95" stroke="#262626" stroke-width="0.9"/>
<line x1="229.01" y1="583.96" x2="459.67" y2="580.72" stroke="#262626" stroke-width="0.9"/>
<line x1="96.27" y1="569.56" x2="194.77" y2="560.55" stroke="#262626" stroke-width="0.9"/>
<line x1="229.01" y1="558.69" x2="459.67" y2="526.78" stroke="#262626" stroke-width="0.9"/>
<line x1="96.27" y1="548.07" x2="194.77" y2="543.14" stroke="#262626" stroke-width="0.9"/>
<line x1="229.01" y1="543.76" x2="459.67" y2="540.28" stroke="#262626" stroke-width="0.9"/>
<line x1="96.27" y1="556.22" x2="194.77" y2="547.98" stroke="#262626" stroke-width="0.9"/>
<line x1="229.01" y1="531.71" x2="459.67" y2="511.52" stroke="#262626" stroke-width="0.9"/>
<rect x="72.8" y="432.3" width="118.7" height="98.6" fill="#fff" stroke="#98A3CF" stroke-width="1.2" rx="1"/>
<path d="M79.60 434.58L82.80 437.40L79.60 440.22L76.40 437.40Z" fill="#1A6CBC"/>
<text x="84.6" y="440.00" class="lg" textLength="104.8" lengthAdjust="spacingAndGlyphs">D Tyr Opt Active(UV) [5x10-</text>
<text x="84.6" y="450.70" class="lg" textLength="15.5" lengthAdjust="spacingAndGlyphs">4M]</text>
<rect x="76.70" y="454.00" width="5.80" height="5.80" fill="#1A6CBC"/>
<text x="84.6" y="459.50" class="lg" textLength="103" lengthAdjust="spacingAndGlyphs">L Tyr Opt Active(UV) [5x10-</text>
<text x="84.6" y="470.20" class="lg" textLength="15.5" lengthAdjust="spacingAndGlyphs">4M]</text>
<path d="M79.60 473.48L82.80 476.30L79.60 479.12L76.40 476.30Z" fill="#F01A22"/>
<text x="84.6" y="478.90" class="lg" textLength="104.8" lengthAdjust="spacingAndGlyphs">D Tyr Racemic(HPLC) [5x10-</text>
<text x="84.6" y="489.60" class="lg" textLength="15.5" lengthAdjust="spacingAndGlyphs">4M]</text>
<rect x="76.70" y="493.20" width="5.80" height="5.80" fill="#F01A22"/>
<text x="84.6" y="498.70" class="lg" textLength="103" lengthAdjust="spacingAndGlyphs">L Tyr Racemic(HPLC) [5x10-</text>
<text x="84.6" y="509.40" class="lg" textLength="15.5" lengthAdjust="spacingAndGlyphs">4M]</text>
<path d="M79.60 512.88L82.80 515.70L79.60 518.52L76.40 515.70Z" fill="#06AF50"/>
<text x="84.6" y="518.30" class="lg" textLength="96.8" lengthAdjust="spacingAndGlyphs">D Tyr(HPLC) [3.33x10-4M]</text>
<text x="234.2" y="446.6" class="ttl" textLength="56" lengthAdjust="spacingAndGlyphs">100%CEL Tyr</text>
<text x="301.9" y="480.6" class="big" style="font-size:35px" textLength="27.5" lengthAdjust="spacingAndGlyphs">C</text>
</svg>
</body></html>
